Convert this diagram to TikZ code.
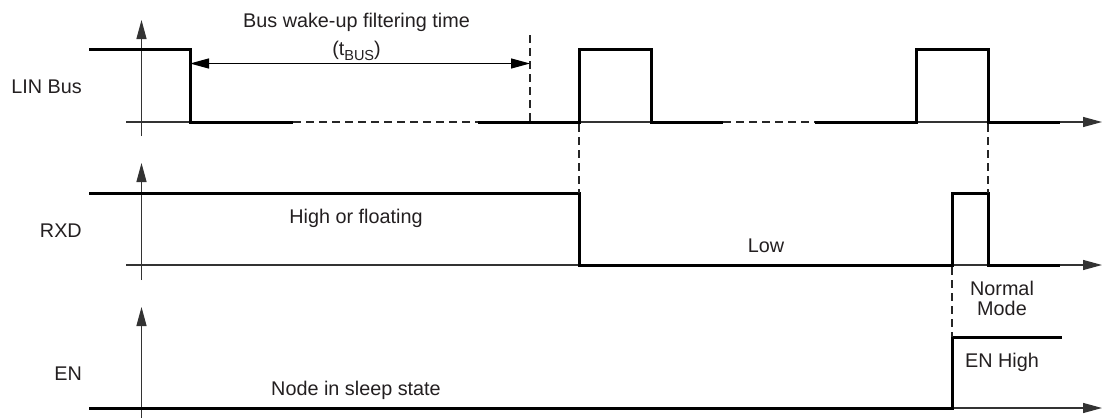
\documentclass[tikz,border=0pt]{standalone}
\usepackage{fontspec}
\setmainfont{Liberation Sans}
\usetikzlibrary{arrows.meta}
\definecolor{txt}{HTML}{231F20}
\definecolor{axc}{HTML}{333333}
\begin{document}
\begin{tikzpicture}[x=1pt,y=-1pt,
  sig/.style={line width=3pt, line join=miter, line cap=butt, black},
  thinax/.style={line width=1.2pt, axc},
  ax/.style={line width=1.2pt, axc, -{Triangle[length=19pt,width=10pt]}},
  dbl/.style={line width=1.2pt, black, {Triangle[length=19pt,width=10pt]}-{Triangle[length=19pt,width=10pt]}},
  dsh/.style={line width=1.4pt, black!85, dash pattern=on 8pt off 5pt},
  lbl/.style={font=\fontsize{19.8}{22}\selectfont, text=txt, inner sep=0pt, text height=14.2pt, text depth=0pt},
]
\useasboundingbox (0,0) rectangle (1104,418);

% ---------- LIN Bus ----------
\node[lbl, anchor=east] (linlbl) at (82,86) {LIN Bus};
\draw[ax] (141.5,136) -- (141.5,20);
\draw[thinax] (126,122) -- (293,122);
\draw[thinax] (478,122) -- (723,122);
\draw[ax] (815,122) -- (1102,122);
\draw[sig] (89,49) -- (190,49) -- (190,122) -- (293,122);
\draw[dsh] (293,122) -- (478,122);
\draw[sig] (478,122) -- (579,122) -- (579,49) -- (651,49) -- (651,122) -- (723,122);
\draw[dsh] (723,122) -- (815,122);
\draw[sig] (815,122) -- (916,122) -- (916,49) -- (988,49) -- (988,122) -- (1060,122);

\coordinate (tbA) at (190,63.5);
\coordinate (tbB) at (530,63.5);
\draw[dsh] (530,35) -- (530,122);
\draw[dbl] (tbA) -- (tbB);
\node[lbl] (tbus1) at (356.5,20) {Bus wake-up filtering time};
\node[lbl] (tbus2) at (356.5,48) {(t\raisebox{-5pt}{\fontsize{14.5}{14.5}\selectfont BUS})};

% ---------- RXD ----------
\node[lbl, anchor=east] (rxdlbl) at (82,230) {RXD};
\draw[ax] (141.5,280) -- (141.5,163);
\draw[ax] (126,265) -- (1102,265);
\draw[sig] (89,193) -- (579,193) -- (579,265) -- (952,265) -- (952,193) -- (988,193) -- (988,265) -- (1060,265);
\node[lbl] (hof) at (356,216) {High or floating};
\node[lbl] (low) at (766,245) {Low};

\draw[dsh] (579,124) -- (579,193);
\draw[dsh] (988,124) -- (988,193);

% ---------- EN ----------
\node[lbl, anchor=east] (enlbl) at (82,373) {EN};
\draw[ax] (141.5,418) -- (141.5,307);
\draw[ax] (952,408) -- (1102,408);
\draw[sig] (89,408) -- (952,408) -- (952,337) -- (1062,337);
\draw[dsh] (952,267) -- (952,337);
\node[lbl] (sleep) at (356,388) {Node in sleep state};
\node[lbl] (nm1) at (1002,288) {Normal};
\node[lbl] (nm2) at (1002,308) {Mode};
\node[lbl] (enh) at (1002,360) {EN High};
\end{tikzpicture}
\end{document}
